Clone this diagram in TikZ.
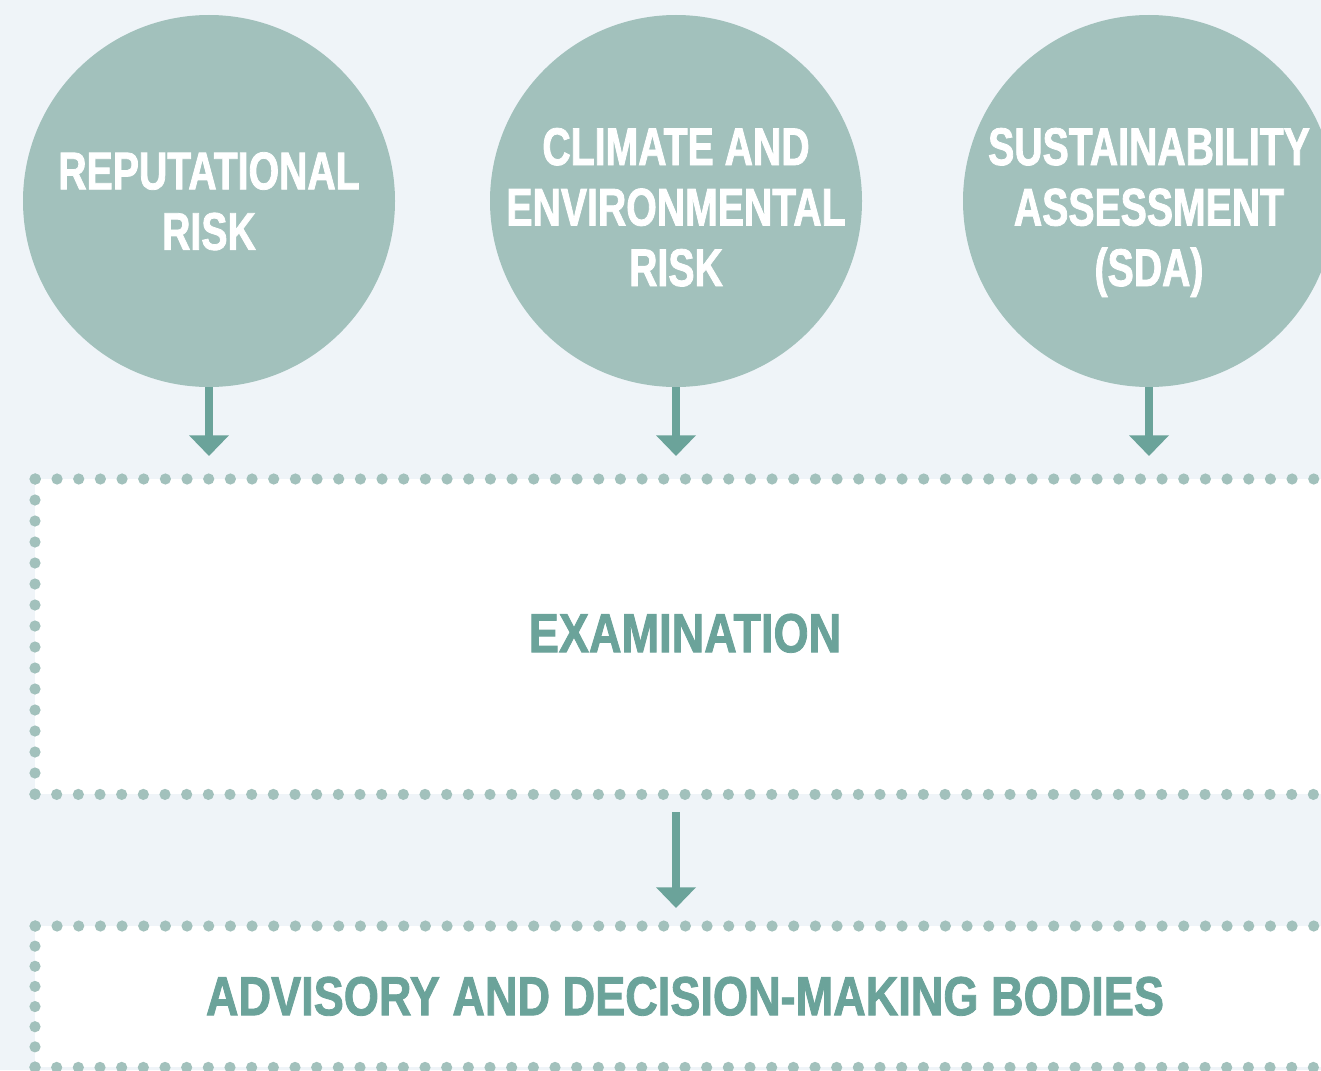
\documentclass[tikz,border=0pt]{standalone}
\usepackage{fontspec}
\usetikzlibrary{arrows.meta}
\newfontfamily\circfont[FakeStretch=0.74,FakeBold=1.5]{Liberation Sans}
\newfontfamily\boxfont[FakeStretch=0.82,FakeBold=1.5]{Liberation Sans}
\definecolor{bgc}{RGB}{239,244,248}
\definecolor{circc}{RGB}{162,193,188}
\definecolor{arrc}{RGB}{107,163,154}
\begin{document}
\begin{tikzpicture}[x=1pt,y=-1pt,
  circ/.style={circle, fill=circc, draw=none, inner sep=0pt, minimum size=372pt},
  circtext/.style={text=white, align=center, font=\circfont\bfseries\fontsize{53}{60.5}\selectfont, text depth=0pt, inner sep=0pt},
  boxfill/.style={fill=white, draw=none, inner sep=0pt, minimum width=1300pt, anchor=north west},
  boxtext/.style={text=arrc, font=\boxfont\bfseries\fontsize{55}{60}\selectfont, text depth=0pt, inner sep=0pt},
  dotline/.style={draw=circc, line width=11.2pt, line cap=round, dash pattern=on 0pt off #1},
  dotline/.default=21.667pt,
  flow/.style={draw=arrc, line width=7.7pt, -{Triangle[width=38.7pt,length=20.7pt]}}]
\useasboundingbox (0,0) rectangle (1321,1070);
\clip (0,0) rectangle (1321,1070);
\fill[bgc] (0,0) rectangle (1321,1070);

% boxes
\node[boxfill, minimum height=315pt] (exam) at (35,479) {};
\node[boxfill, minimum height=141pt] (adv) at (35,926) {};

\draw[dotline] (exam.north east) -- (exam.north west);
\draw[dotline=21pt] (exam.north west) -- (exam.south west);
\draw[dotline] (exam.south west) -- (exam.south east);
\draw[dotline] (adv.north east) -- (adv.north west);
\draw[dotline=20.14pt] (adv.north west) -- (adv.south west);
\draw[dotline] (adv.south west) -- (adv.south east);

\node[boxtext] (examt) at (685,633) {EXAMINATION};
\node[boxtext] (advt) at (685,996) {ADVISORY AND DECISION-MAKING BODIES};

% circles
\node[circ] (c1) at (209,201) {};
\node[circ] (c2) at (676,201) {};
\node[circ] (c3) at (1149,201) {};

\node[circtext] (c1t) at (209,201) {REPUTATIONAL\\RISK};
\node[circtext] (c2t) at (676,207) {CLIMATE AND\\ENVIRONMENTAL\\RISK};
\node[circtext] (c3t) at (1149,207) {SUSTAINABILITY\\ASSESSMENT\\(SDA)};

% arrows
\draw[flow, shorten >=23pt] (c1.south) -- (exam.north -| c1.south);
\draw[flow, shorten >=23pt] (c2.south) -- (exam.north -| c2.south);
\draw[flow, shorten >=23pt] (c3.south) -- (exam.north -| c3.south);
\draw[flow, shorten <=18pt, shorten >=18pt] (exam.south -| c2.south) -- (adv.north -| c2.south);
\end{tikzpicture}
\end{document}
